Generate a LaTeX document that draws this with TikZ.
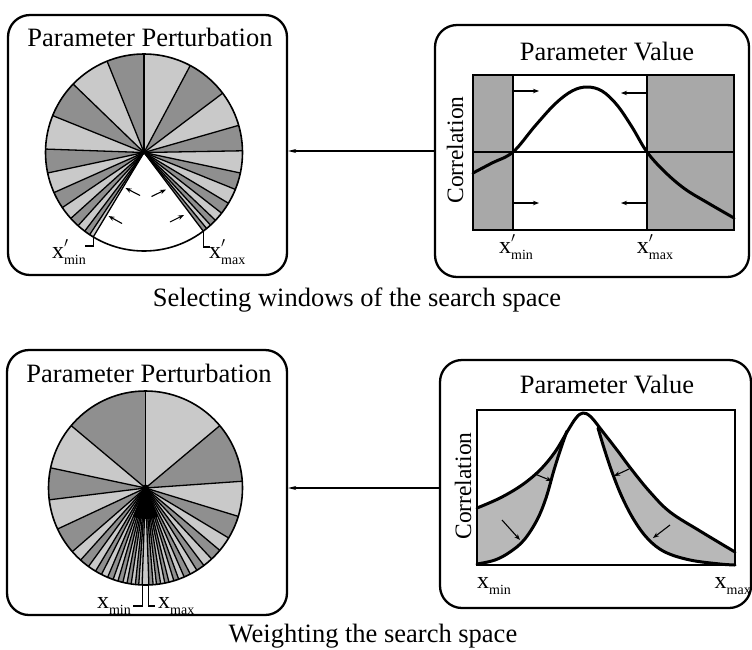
\documentclass[tikz,border=0pt]{standalone}
\usepackage{fontspec}
\setmainfont{Liberation Serif}
\usetikzlibrary{arrows.meta,calc}
\definecolor{dk}{gray}{0.56}
\definecolor{lt}{gray}{0.79}
\definecolor{shdA}{gray}{0.66}
\definecolor{shdB}{gray}{0.72}
\newcommand\xlab[2]{x\rlap{\raisebox{0.42em}{\fontsize{15}{15}\selectfont$#1$}}\raisebox{-0.28em}{\fontsize{14}{14}\selectfont #2}}
\begin{document}
\begin{tikzpicture}[x=1pt,y=-1pt,
  panel/.style={draw, line width=2.3pt, rounded corners=22pt, inner sep=0pt},
  ttl/.style={font=\fontsize{26.5}{30}\selectfont, anchor=base, inner sep=0pt},
  captxt/.style={font=\fontsize{26.5}{30}\selectfont, anchor=base, inner sep=0pt},
  axl/.style={font=\fontsize{23.5}{26}\selectfont, rotate=90, inner sep=0pt},
  xl/.style={font=\fontsize{24}{26}\selectfont, anchor=base, inner sep=0pt},
  spoke/.style={line width=1.3pt, line join=round},
  rim/.style={line width=1.6pt},
  frame/.style={line width=1.5pt},
  curve/.style={line width=3pt, line cap=round, line join=round},
  conn/.style={line width=1.3pt, -{Stealth[length=8pt,width=4pt]}},
  mv/.style={line width=1.1pt, -{Stealth[length=6pt,width=4.5pt]}},
  brk/.style={line width=1.2pt}]
\useasboundingbox (0,0) rectangle (752,649);
\fill[white] (0,0) rectangle (752,649);

% ---------- panels ----------
\node[panel, minimum width=279pt, minimum height=260pt] (tl) at (147.5,145) {};
\node[panel, minimum width=314pt, minimum height=252pt] (tr) at (592,151) {};
\node[panel, minimum width=280pt, minimum height=265pt] (bl) at (147,482.5) {};
\node[panel, minimum width=311pt, minimum height=248pt] (br) at (595.5,484) {};

\node[ttl] (tlt) at (150,46) {Parameter Perturbation};
\node[ttl] (trt) at (607,60) {Parameter Value};
\node[ttl] (blt) at (149,382) {Parameter Perturbation};
\node[ttl] (brt) at (607,393) {Parameter Value};

% ---------- top pie ----------
\coordinate (c1) at (144,152.5);
\foreach \a/\b/\c in {90/112/dk,112/136/lt,136/158/dk,158/178/lt,178/192/dk,192/204/lt,
  204/214/dk,214/222/lt,222/228/dk,228/233/lt,233/236.5/dk,236.5/239/lt,
  62/90/lt,37/62/dk,16/37/lt,1/16/dk,-12/1/lt,-22/-12/dk,-31/-22/lt,-38/-31/dk,
  -43.5/-38/lt,-47.5/-43.5/dk,-50.5/-47.5/lt,-53/-50.5/dk}
  \fill[\c] (c1) -- ++(\a:98.5pt) arc[start angle=\a, end angle=\b, radius=98.5pt] -- cycle;
\foreach \a in {90,112,136,158,178,192,204,214,222,228,233,236.5,239,
  62,37,16,1,-12,-22,-31,-38,-43.5,-47.5,-50.5,-53}
  \draw[spoke] (c1) -- ++(\a:98.5pt);
\draw[rim] (c1) circle[radius=98.5pt];
\coordinate (g1) at ($(c1)+(239:98.5pt)$);
\coordinate (g2) at ($(c1)+(307:98.5pt)$);
\draw[brk] (g1) -- (g1 |- 0,246) -- ++(-8,0);
\draw[brk] (g2) -- (g2 |- 0,247) -- ++(7,0);
\node[xl, anchor=base east] (p1) at (86,258) {\xlab{\prime}{min}};
\node[xl, anchor=base west] (p2) at (209,258) {\xlab{\prime}{max}};
\draw[mv] (140,195.5) -- (125.5,188);
\draw[mv] (122,223.5) -- (108.5,216);
\draw[mv] (151.5,196.5) -- (166,189.5);
\draw[mv] (170,222) -- (184,215);

% ---------- top plot ----------
\fill[shdA] (473,75) rectangle (513,230);
\fill[shdA] (647,75) rectangle (734,230);
\draw[frame] (473,75) rectangle (734,230);
\draw[frame] (513,75) -- (513,230);
\draw[frame] (647,75) -- (647,230);
\draw[frame] (473,152) -- (734,152);
\draw[curve] plot[smooth, tension=0.6] coordinates {(473,173) (492,163) (513,152) (535,126) (555,104) (572,91) (587,87) (602,91) (617,105) (632,127) (647,152) (665,172) (685,189) (708,203) (734,218)};
\draw[mv] (513,91) -- (539,91);
\draw[mv] (513,203) -- (539,203);
\draw[mv] (647,93) -- (621,93);
\draw[mv] (647,203) -- (621,203);
\node[axl] (ca) at (455,150) {Correlation};
\node[xl] (q1) at (516,253) {\xlab{\prime}{min}};
\node[xl] (q2) at (655,253) {\xlab{\prime}{max}};

\draw[conn] (tr.west) -- (tl.east |- tr.west);

\node[captxt] (cp1) at (357,306) {Selecting windows of the search space};

% ---------- bottom pie ----------
\coordinate (c2) at (145.5,488);
\foreach \a/\b/\c in {90/140/dk,140/168/lt,168/187/dk,187/205/lt,205/221/dk,221/228/lt,
  228/234/dk,234/239/lt,239/243/dk,243/247/lt,247/250.5/dk,250.5/253.5/lt,253.5/256.5/dk,
  256.5/259/lt,259/261.5/dk,261.5/264/lt,264/266/dk,266/268/lt,
  40/90/lt,4/40/dk,-17/4/lt,-31/-17/dk,-40/-31/lt,-47/-40/dk,-53/-47/lt,-58/-53/dk,
  -62.5/-58/lt,-66.5/-62.5/dk,-70/-66.5/lt,-73/-70/dk,-76/-73/lt,-78.5/-76/dk,
  -81/-78.5/lt,-83.5/-81/dk,-85.5/-83.5/lt,-88/-85.5/dk,-92/-88/lt}
  \fill[\c] (c2) -- ++(\a:97pt) arc[start angle=\a, end angle=\b, radius=97pt] -- cycle;
\foreach \a in {90,140,168,187,205,221,228,234,239,243,247,250.5,253.5,256.5,259,261.5,264,266,268,
  40,4,-17,-31,-40,-47,-53,-58,-62.5,-66.5,-70,-73,-76,-78.5,-81,-83.5,-85.5,-88}
  \draw[spoke] (c2) -- ++(\a:97pt);
\fill[black] (c2) -- ++(246:31pt) arc[start angle=246, end angle=294, radius=31pt] -- cycle;
\fill[black] (c2) circle[radius=3.5pt];
\draw[rim] (c2) circle[radius=97pt];
\coordinate (h1) at ($(c2)+(268:97pt)$);
\coordinate (h2) at ($(c2)+(272:97pt)$);
\draw[brk] (h1) -- (h1 |- 0,606) -- ++(-9,0);
\draw[brk] (h2) -- (h2 |- 0,606) -- ++(6,0);
\node[xl, anchor=base east] (r1) at (131,608) {\xlab{}{min}};
\node[xl, anchor=base west] (r2) at (158,608) {\xlab{}{max}};

% ---------- bottom plot ----------
\fill[shdB] (477,564) -- (477,508)
  -- plot[smooth, tension=0.6] coordinates {(477,508) (500,498) (522,485) (540,470) (555,452) (567,431)}
  -- plot[smooth, tension=0.6] coordinates {(567,431) (561,448) (554,470) (546,498) (537,520) (524,540) (510,552) (495,560) (477,564)} -- cycle;
\fill[shdB] plot[smooth, tension=0.6] coordinates {(598,428) (603,432) (617,450) (632,470) (650,492) (670,512) (700,531) (735,552)}
  -- (735,565)
  -- plot[smooth, tension=0.6] coordinates {(735,565) (720,564) (690,560) (665,552) (648,539) (634,520) (622,497) (612,472) (604,448) (598,428)} -- cycle;
\draw[frame] (477,410) rectangle (735,565);
\draw[curve] plot[smooth, tension=0.6] coordinates {(477,508) (500,498) (522,485) (540,470) (555,452) (567,432) (576,418) (583,413) (591,417) (603,432) (617,450) (632,470) (650,492) (670,512) (700,531) (735,552)};
\draw[curve] plot[smooth, tension=0.6] coordinates {(477,564) (495,560) (510,552) (524,540) (537,520) (546,498) (554,470) (561,448) (567,431)};
\draw[curve] plot[smooth, tension=0.6] coordinates {(598,428) (604,448) (612,472) (622,497) (634,520) (648,539) (665,552) (690,560) (720,564) (735,565)};
\draw[mv] (535,474) -- (552,481);
\draw[mv] (502,520) -- (520,540);
\draw[mv] (629,469) -- (614,476);
\draw[mv] (670,525) -- (653,538);
\node[axl] (cb) at (463,486) {Correlation};
\node[xl, anchor=base west] (s1) at (477,588) {\xlab{}{min}};
\node[xl, anchor=base east] (s2) at (751,588) {\xlab{}{max}};

\draw[conn] (br.west |- c2) -- (bl.east |- c2);

\node[captxt] (cp2) at (373,642) {Weighting the search space};
\end{tikzpicture}
\end{document}
